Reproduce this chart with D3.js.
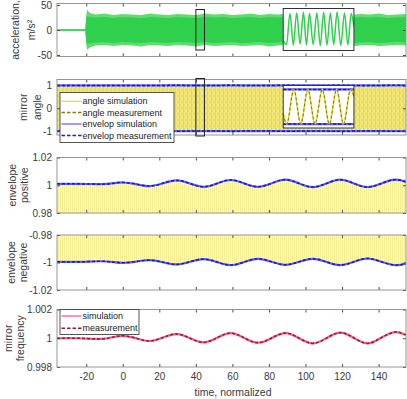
<!DOCTYPE html>
<html>
<head>
<meta charset="utf-8">
<script src="https://cdn.jsdelivr.net/npm/d3@7"></script>
<style>
  body { margin: 0; background: #fff; }
  svg { display: block; font-family: "Liberation Sans", Arial, sans-serif; }
</style>
</head>
<body>
<div id="chart"></div>
<script>
// ---- data ----
const xTicks = [-20, 0, 20, 40, 60, 80, 100, 120, 140];
const accTicks = [-50, 0, 50];
const angleTicks = [-1, 0, 1];
const posTicks = [0.98, 1, 1.02];
const negTicks = [-1.02, -1, -0.98];
const freqTicks = [0.998, 1, 1.002];

// acceleration envelope (outer and core band), m/s^2
const accTime = [-36, -20.5, -20, -19.5, -18, -15, -10, -5, 0, 5, 10, 15, 20, 25, 30, 35, 40, 45, 50, 55,
  60, 65, 70, 75, 80, 85, 90, 95, 100, 105, 110, 115, 120, 125, 130, 135, 140, 145, 150, 155];
const accUpper = [2, 2, 30, 41, 34, 31, 33, 30, 32, 31, 30, 33, 31, 30, 32, 31, 30, 33, 31, 32,
  30, 31, 33, 30, 32, 31, 33, 30, 31, 32, 30, 33, 31, 30, 32, 31, 33, 30, 31, 32];
const accLower = [-2, -2, -30, -40, -35, -31, -30, -32, -30, -31, -33, -30, -31, -32, -30, -31, -33, -30, -32, -31,
  -30, -32, -31, -30, -33, -31, -30, -32, -31, -30, -32, -31, -30, -33, -31, -30, -32, -31, -30, -31];
const accCoreUp = [1.2, 1.2, 22, 28, 26, 25, 26, 24, 26, 25, 24, 26, 25, 24, 26, 25, 24, 26, 25, 26,
  24, 25, 26, 24, 26, 25, 26, 24, 25, 26, 24, 26, 25, 24, 26, 25, 26, 24, 25, 26];
const accCoreLow = [-1.2, -1.2, -22, -28, -27, -25, -24, -26, -24, -25, -26, -24, -25, -26, -24, -25, -26, -24, -26, -25,
  -24, -26, -25, -24, -26, -25, -24, -26, -25, -24, -26, -25, -24, -26, -25, -24, -26, -25, -24, -25];

// zoom windows (time)
const zoomNarrow = [40, 44.7];
const zoomWide = [87.8, 126.5];

// inset of acceleration (sample index, m/s^2)
const inset1X = [0, 3.3, 6.7, 10, 13.3, 16.7, 20, 23, 26, 29.7, 33.3, 36.7, 40, 43.3, 46.7, 50, 53.3, 57, 60.7, 64, 67.3, 70];
const inset1Y = [-20, -27, 29, -28, 30, -26, 31, -28, 29, -27, 30, -29, 31, -28, 30, -27, 31, -29, 30, -28, 29, 5];

// inset of mirror angle
const inset2X = [0, 3.5, 10.6, 17.5, 24.6, 31.8, 39, 46, 53.3, 60.2, 67.3, 70.6];
const inset2Y = [-0.4, -1, 1, -1, 1, -1, 1, -1, 1, -1, 1, 0.6];
const inset2Env = [-1, 1];

// envelopes and mirror frequency
const envTime = [-36, -24, -12, -6, 0, 7.3, 14.7, 22, 29.5, 36.8, 44.2, 51.6, 59, 66.5, 74, 81.5,
  89, 96.5, 104, 111.5, 119, 126.5, 134, 141.5, 149, 155];
const envPos = [1.0010, 1.0010, 1.0008, 1.0013, 1.0020, 1.0008, 0.9994, 1.0014, 1.0035, 1.0012, 0.9989, 1.0013, 1.0038,
  1.0013, 0.9989, 1.0014, 1.0040, 1.0013, 0.9987, 1.0013, 1.0040, 1.0013, 0.9987, 1.0013, 1.0040, 1.0024];
const envNeg = [-0.9995, -0.9995, -0.9991, -0.9996, -1.0002, -0.9993, -0.9983, -0.9998, -1.0014, -0.9995, -0.9976, -0.9997, -1.0019,
  -0.9996, -0.9973, -0.9995, -1.0017, -0.9995, -0.9973, -0.9996, -1.0019, -0.9995, -0.9971, -0.9995, -1.0019, -1.0008];
const freq = [1.0000, 1.0000, 0.99995, 1.00006, 1.00017, 1.00000, 0.99981, 1.00005, 1.00029, 1.00000, 0.99971, 1.00003, 1.00036,
  1.00002, 0.99969, 1.00002, 1.00036, 1.00000, 0.99964, 1.00001, 1.00039, 1.00002, 0.99964, 1.00004, 1.00043, 1.00022];

const angleLegend = ['angle simulation', 'angle measurement', 'envelop simulation', 'envelop measurement'];
const freqLegend = ['simulation', 'measurement'];

// ---- layout ----
const svg = d3.select('#chart').append('svg')
  .attr('width', 407)
  .attr('height', 399);

const x = d3.scaleLinear().domain([-36, 155]).range([57, 406]);

const panels = [
  { top: 3.5, bottom: 56.5, domain: [-53, 53], ticks: accTicks, label: ['acceleration,', 'm/s²'], lx: [15, 31] },
  { top: 79.5, bottom: 135, domain: [-1.17, 1.26], ticks: angleTicks, label: ['mirror', 'angle'], lx: [23, 37] },
  { top: 157.5, bottom: 213, domain: [0.98, 1.02], ticks: posTicks, label: ['envelope', 'positive'], lx: [12, 24] },
  { top: 235, bottom: 290, domain: [-1.02, -0.98], ticks: negTicks, label: ['envelope', 'negative'], lx: [11, 23] },
  { top: 309.5, bottom: 367, domain: [0.998, 1.002], ticks: freqTicks, label: ['mirror', 'frequency'], lx: [8, 20] }
];

const defs = svg.append('defs');

const angleTex = defs.append('pattern')
  .attr('id', 'angleTex')
  .attr('patternUnits', 'userSpaceOnUse')
  .attr('width', 4)
  .attr('height', 6);
angleTex.append('rect').attr('width', 4).attr('height', 6).attr('fill', '#ebde52');
angleTex.append('path')
  .attr('d', 'M0,0L2,3L0,6M4,0L2,3L4,6')
  .attr('stroke', '#f8f2b8')
  .attr('stroke-width', 0.7)
  .attr('fill', 'none');
angleTex.append('rect').attr('x', 3).attr('width', 0.6).attr('height', 6).attr('fill', '#c4b85a').attr('opacity', 0.5);

const stripeTex = defs.append('pattern')
  .attr('id', 'stripeTex')
  .attr('patternUnits', 'userSpaceOnUse')
  .attr('width', 2)
  .attr('height', 4);
stripeTex.append('rect').attr('width', 2).attr('height', 4).attr('fill', '#fffdee');
stripeTex.append('rect').attr('width', 1).attr('height', 4).attr('fill', '#f5ed92');

panels.forEach((p, i) => {
  p.y = d3.scaleLinear().domain(p.domain).range([p.bottom, p.top]);
  defs.append('clipPath').attr('id', 'clip' + i)
    .append('rect')
    .attr('x', x.range()[0])
    .attr('y', p.top)
    .attr('width', x.range()[1] - x.range()[0])
    .attr('height', p.bottom - p.top);
  p.g = svg.append('g').attr('clip-path', `url(#clip${i})`);
});

const envLines = (g, y, vals, light, dark) => {
  const line = d3.line()
    .x((d, i) => x(envTime[i]))
    .y(d => y(d))
    .curve(d3.curveNatural);
  g.append('path').attr('d', line(vals))
    .attr('fill', 'none').attr('stroke', light).attr('stroke-width', 2.2);
  g.append('path').attr('d', line(vals))
    .attr('fill', 'none').attr('stroke', dark).attr('stroke-width', 1.5)
    .attr('stroke-dasharray', '3,2');
};

// panel 1: acceleration
{
  const p = panels[0];
  const outer = d3.area()
    .x((d, i) => x(accTime[i]))
    .y0((d, i) => p.y(accLower[i]))
    .y1(d => p.y(d));
  p.g.append('path').attr('d', outer(accUpper)).attr('fill', '#62dc72');
  const core = d3.area()
    .x((d, i) => x(accTime[i]))
    .y0((d, i) => p.y(accCoreLow[i]))
    .y1(d => p.y(d));
  p.g.append('path').attr('d', core(accCoreUp)).attr('fill', '#2ed04c');
}

// angle signal fill between the envelopes, reused in panels 2-4
const bandArea = (y) => d3.area()
  .x((d, i) => x(envTime[i]))
  .y0((d, i) => y(envNeg[i]))
  .y1(d => y(d))
  .curve(d3.curveNatural);

// panel 2: mirror angle
{
  const p = panels[1];
  p.g.append('path').attr('d', bandArea(p.y)(envPos)).attr('fill', 'url(#angleTex)');
  envLines(p.g, p.y, envPos, '#6060ff', '#1414d0');
  envLines(p.g, p.y, envNeg, '#6060ff', '#1414d0');
}

// panel 3: positive envelope
{
  const p = panels[2];
  p.g.append('path').attr('d', bandArea(p.y)(envPos)).attr('fill', 'url(#stripeTex)');
  envLines(p.g, p.y, envPos, '#6060ff', '#1414d0');
}

// panel 4: negative envelope
{
  const p = panels[3];
  p.g.append('path').attr('d', bandArea(p.y)(envPos)).attr('fill', 'url(#stripeTex)');
  envLines(p.g, p.y, envNeg, '#6060ff', '#1414d0');
}

// panel 5: mirror frequency
{
  const p = panels[4];
  envLines(p.g, p.y, freq, '#ff5a8c', '#9c1a28');
}

// axes and frames
panels.forEach((p, i) => {
  const last = i === panels.length - 1;
  const ax = svg.append('g').attr('class', 'axes');
  ax.append('g')
    .attr('transform', `translate(0,${p.bottom})`)
    .call(d3.axisBottom(x).tickValues(xTicks).tickSize(-3).tickPadding(6)
      .tickFormat(last ? d => String(d) : ''));
  ax.append('g')
    .attr('transform', `translate(0,${p.top})`)
    .call(d3.axisTop(x).tickValues(xTicks).tickSize(-3).tickFormat(''));
  ax.append('g')
    .attr('transform', `translate(${x.range()[0]},0)`)
    .call(d3.axisLeft(p.y).tickValues(p.ticks).tickSize(-3).tickPadding(5)
      .tickFormat(d => String(d)));
  ax.append('g')
    .attr('transform', `translate(${x.range()[1]},0)`)
    .call(d3.axisRight(p.y).tickValues(p.ticks).tickSize(-3).tickFormat(''));
  ax.selectAll('.domain').remove();
  ax.selectAll('.tick line').attr('stroke', '#4a4a4a');
  ax.selectAll('.tick text')
    .attr('fill', '#3a3a3a')
    .style('font-size', '10px')
    .style('font-family', '"Liberation Sans", Arial, sans-serif');

  svg.append('rect')
    .attr('x', x.range()[0])
    .attr('y', p.top)
    .attr('width', x.range()[1] - x.range()[0])
    .attr('height', p.bottom - p.top)
    .attr('fill', 'none')
    .attr('stroke', '#8a8a8a')
    .attr('stroke-width', 0.9);

  p.label.forEach((t, k) => {
    svg.append('text')
      .attr('transform', `translate(${p.lx[k]},${(p.top + p.bottom) / 2}) rotate(-90)`)
      .attr('text-anchor', 'middle')
      .attr('dominant-baseline', 'central')
      .attr('fill', '#3a3a3a')
      .style('font-size', '10.5px')
      .text(t);
  });
});

// inset 1: zoomed acceleration
{
  const x0 = x(zoomWide[0]), x1 = x(zoomWide[1]);
  const top = 8.5, bot = 50.5;
  svg.append('rect').attr('x', x0).attr('y', top).attr('width', x1 - x0).attr('height', bot - top)
    .attr('fill', '#fff');
  const ix = d3.scaleLinear().domain([0, 70]).range([x0, x1]);
  const iy = d3.scaleLinear().domain([-38, 38]).range([bot, top]);
  svg.append('path')
    .attr('d', d3.line().x((d, i) => ix(inset1X[i])).y(d => iy(d)).curve(d3.curveMonotoneX)(inset1Y))
    .attr('fill', 'none').attr('stroke', '#2ed04c').attr('stroke-width', 1.5);
  svg.append('rect').attr('x', x0).attr('y', top).attr('width', x1 - x0).attr('height', bot - top)
    .attr('fill', 'none').attr('stroke', '#333').attr('stroke-width', 1);
  svg.append('rect').attr('x', x(zoomNarrow[0])).attr('y', 9.5)
    .attr('width', x(zoomNarrow[1]) - x(zoomNarrow[0])).attr('height', 40.5)
    .attr('fill', 'none').attr('stroke', '#222').attr('stroke-width', 1);
}

// inset 2: zoomed mirror angle
{
  const x0 = x(zoomWide[0]), x1 = x(zoomWide[1]);
  const top = 85.5, bot = 128;
  svg.append('rect').attr('x', x0).attr('y', top).attr('width', x1 - x0).attr('height', bot - top)
    .attr('fill', '#fff');
  const ix = d3.scaleLinear().domain([0, 70.6]).range([x0, x1]);
  const iy = d3.scaleLinear().domain([-1.23, 1.23]).range([bot, top]);
  inset2Env.forEach(v => {
    svg.append('line').attr('x1', x0).attr('x2', x1).attr('y1', iy(v)).attr('y2', iy(v))
      .attr('stroke', '#6060ff').attr('stroke-width', 2.2);
    svg.append('line').attr('x1', x0).attr('x2', x1).attr('y1', iy(v)).attr('y2', iy(v))
      .attr('stroke', '#1414d0').attr('stroke-width', 1.5).attr('stroke-dasharray', '3,2');
  });
  const wave = d3.line().x((d, i) => ix(inset2X[i])).y(d => iy(d)).curve(d3.curveMonotoneX);
  svg.append('path').attr('d', wave(inset2Y))
    .attr('fill', 'none').attr('stroke', '#efdf20').attr('stroke-width', 1.6);
  svg.append('path').attr('d', wave(inset2Y))
    .attr('fill', 'none').attr('stroke', '#8a7a18').attr('stroke-width', 1.1).attr('stroke-dasharray', '3,2');
  svg.append('rect').attr('x', x0).attr('y', top).attr('width', x1 - x0).attr('height', bot - top)
    .attr('fill', 'none').attr('stroke', '#333').attr('stroke-width', 1);
  svg.append('rect').attr('x', x(zoomNarrow[0])).attr('y', 78.5)
    .attr('width', x(zoomNarrow[1]) - x(zoomNarrow[0])).attr('height', 57.5)
    .attr('fill', 'none').attr('stroke', '#222').attr('stroke-width', 1);
}

// legends
const drawLegend = (bx, by, bw, bh, rows, items) => {
  const lg = svg.append('g');
  lg.append('rect').attr('x', bx).attr('y', by).attr('width', bw).attr('height', bh)
    .attr('fill', '#fff').attr('stroke', '#444').attr('stroke-width', 0.9);
  items.forEach((it, k) => {
    const yy = rows[k];
    lg.append('line').attr('x1', bx + 1.5).attr('x2', bx + 21.5).attr('y1', yy).attr('y2', yy)
      .attr('stroke', it.color).attr('stroke-width', it.w)
      .attr('stroke-dasharray', it.dash || null);
    lg.append('text').attr('x', bx + 22.5).attr('y', yy).attr('dominant-baseline', 'central')
      .attr('fill', '#222').style('font-size', '9px').text(it.label);
  });
};

drawLegend(60, 92.5, 114, 50, [101.3, 112.5, 124, 135.5], [
  { label: angleLegend[0], color: '#ecdc1c', w: 1.2 },
  { label: angleLegend[1], color: '#8c7c14', w: 1.3, dash: '3.5,2' },
  { label: angleLegend[2], color: '#5a5aff', w: 1.2 },
  { label: angleLegend[3], color: '#1a1ad8', w: 1.6, dash: '3.5,2' }
]);

drawLegend(60, 309.5, 79, 25, [316, 328.3], [
  { label: freqLegend[0], color: '#ff5a8c', w: 1.3 },
  { label: freqLegend[1], color: '#9c1a28', w: 1.6, dash: '3.5,2' }
]);

svg.append('text')
  .attr('x', 233)
  .attr('y', 392)
  .attr('text-anchor', 'middle')
  .attr('dominant-baseline', 'central')
  .attr('fill', '#3a3a3a')
  .style('font-size', '10.5px')
  .text('time, normalized');
</script>
</body>
</html>
